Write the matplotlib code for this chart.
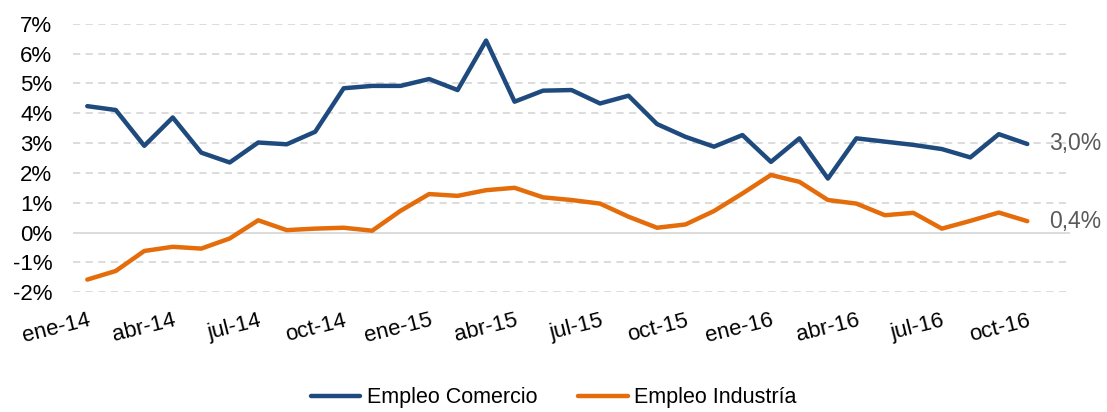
import matplotlib.pyplot as plt
import numpy as np

plt.rcParams['font.family'] = ['Liberation Sans', 'DejaVu Sans']

# monthly data, ene-14 .. oct-16 (%)
comercio = [4.24, 4.11, 2.91, 3.86, 2.68, 2.35, 3.02, 2.96, 3.38, 4.84,
            4.92, 4.92, 5.15, 4.78, 6.44, 4.39, 4.76, 4.78, 4.33, 4.59,
            3.64, 3.21, 2.88, 3.27, 2.37, 3.16, 1.81, 3.16, 3.05, 2.94,
            2.80, 2.52, 3.30, 2.97]
industria = [-1.58, -1.29, -0.62, -0.48, -0.54, -0.20, 0.41, 0.08, 0.13, 0.16,
             0.06, 0.73, 1.29, 1.23, 1.42, 1.50, 1.18, 1.09, 0.97, 0.53,
             0.16, 0.27, 0.72, 1.31, 1.93, 1.70, 1.09, 0.97, 0.58, 0.66,
             0.13, 0.39, 0.67, 0.38]
tick_labels = ['ene-14', 'abr-14', 'jul-14', 'oct-14', 'ene-15', 'abr-15',
               'jul-15', 'oct-15', 'ene-16', 'abr-16', 'jul-16', 'oct-16']
y_ticks = [-2, -1, 0, 1, 2, 3, 4, 5, 6, 7]
end_labels = ['3,0%', '0,4%']

blue = '#1f4a7e'
orange = '#e46c0a'

fig = plt.figure(figsize=(11.07, 4.12), dpi=100)
ax = fig.add_axes([0.066, 0.291, 0.9006, 0.651])

x = np.arange(len(comercio))
ax.plot(x, comercio, color=blue, lw=3.2, solid_capstyle='round', label='Empleo Comercio', zorder=3)
ax.plot(x, industria, color=orange, lw=3.2, solid_capstyle='round', label='Empleo Industría', zorder=3)

for yt in y_ticks:
    if yt == 0:
        ax.axhline(0, color='#d9d9d9', lw=1.3, zorder=1)
    else:
        ax.axhline(yt, color='#d9d9d9', lw=1.3, ls=(0, (4, 3)), zorder=1)

ax.text(x[-1] + 0.78, comercio[-1], end_labels[0], fontsize=16.5, color='#595959', va='center', ha='left')
ax.text(x[-1] + 0.78, industria[-1], end_labels[1], fontsize=16.5, color='#595959', va='center', ha='left')

ax.set_xlim(-0.5, 34.5)
ax.set_ylim(-2, 7)
ax.set_yticks(y_ticks)
ax.set_yticklabels(['%d%%' % v for v in y_ticks], fontsize=16)
ax.set_xticks(x[::3])
ax.set_xticklabels(tick_labels, fontsize=16, rotation=14, ha='right', rotation_mode='anchor')
ax.tick_params(axis='y', length=0, pad=15)
ax.tick_params(axis='x', length=0, pad=13)
for s in ax.spines.values():
    s.set_visible(False)

fig.legend(loc='center', bbox_to_anchor=(0.5, 0.034), ncol=2, frameon=False,
           fontsize=15.5, handlelength=2.3, columnspacing=1.9, handletextpad=0.3)

fig.savefig('out.png', dpi=100)
